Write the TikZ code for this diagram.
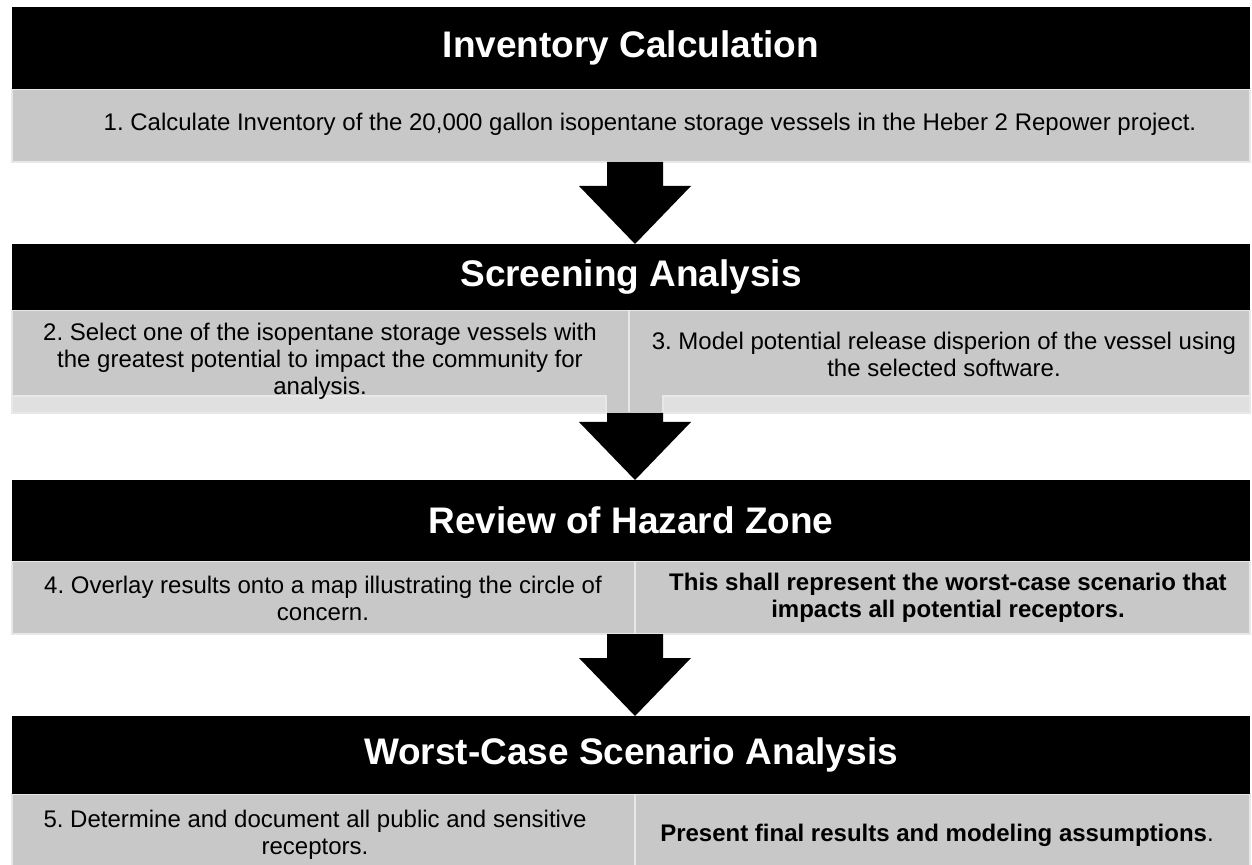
\documentclass[tikz,border=0pt]{standalone}
\usepackage{fontspec}
\setmainfont{Liberation Sans}
\usetikzlibrary{calc}
\definecolor{cellgray}{RGB}{200,200,200}
\definecolor{edgegray}{RGB}{232,232,232}
\definecolor{stripgray}{RGB}{224,224,224}

\begin{document}
\frenchspacing
\begin{tikzpicture}[x=0.5pt,y=-0.5pt,
  bar/.style={fill=black,text=white,inner sep=0pt,outer sep=0pt,minimum width=619pt,
    font=\fontsize{18.5}{22}\selectfont\bfseries},
  cell/.style={fill=cellgray,draw=edgegray,line width=1pt,inner sep=0pt,outer sep=0pt},
  strip/.style={fill=stripgray,draw=edgegray,line width=1pt,inner sep=0pt,outer sep=0pt,minimum height=8.5pt},
  body/.style={align=center,inner sep=0pt,font=\fontsize{12}{13.5}\selectfont},
  bodybf/.style={body,font=\fontsize{12}{13.5}\selectfont\bfseries}]
\useasboundingbox (0,0) rectangle (1252,865);
\coordinate (ax) at (635,0);

% grey cells
\node[cell,minimum width=619pt,minimum height=36.5pt] (g1) at (631,125.5) {};
\node[cell,minimum width=308.5pt,minimum height=51.5pt] (g2a) at (320.5,361.5) {};
\node[cell,minimum width=310.5pt,minimum height=51.5pt] (g2b) at (939.5,361.5) {};
\node[strip,minimum width=297pt] (s2a) at (309,404.5) {};
\node[strip,minimum width=293.5pt] (s2b) at (956.5,404.5) {};
\node[cell,minimum width=311.5pt,minimum height=36.5pt] (g3a) at (323.5,597.5) {};
\node[cell,minimum width=307.5pt,minimum height=36.5pt] (g3b) at (942.5,597.5) {};
\node[cell,minimum width=311.5pt,minimum height=41pt] (g4a) at (323.5,835) {};
\node[cell,minimum width=307.5pt,minimum height=41pt] (g4b) at (942.5,835) {};

% headers
\node[bar,minimum height=41pt] (b1) at (631,48) {Inventory Calculation};
\node[bar,minimum height=33pt] (b2) at (631,277) {Screening Analysis};
\node[bar,minimum height=40.5pt] (b3) at (631,520.5) {Review of Hazard Zone};
\node[bar,minimum height=39pt] (b4) at (631,755) {Worst-Case Scenario Analysis};

% block arrows
\foreach \from/\to in {g1/b2,g2a/b3,g3a/b4}
  \fill ($(\from.south -| ax)+(-28,0)$) -- ($(\from.south -| ax)+(28,0)$)
    -- ($(\to.north -| ax)+(28,-58)$) -- ($(\to.north -| ax)+(56,-58)$)
    -- (\to.north -| ax) -- ($(\to.north -| ax)+(-56,-58)$)
    -- ($(\to.north -| ax)+(-28,-58)$) -- cycle;

% texts
\node[body] (t1) at (650,124) {1. Calculate Inventory of the 20,000 gallon isopentane storage vessels in the Heber 2 Repower project.};
\node[body] (t2) at (320,361) {2. Select one of the isopentane storage vessels with\\the greatest potential to impact the community for\\analysis.};
\node[body] (t3) at (944,354) {3. Model potential release disperion of the vessel using\\the selected software.};
\node[body] (t4) at (323,598) {4. Overlay results onto a map illustrating the circle of\\concern.};
\node[bodybf] (t5) at (948,598) {This shall represent the worst-case scenario that\\impacts all potential receptors.};
\node[body] (t6) at (315,835) {5. Determine and document all public and sensitive\\receptors.};
\node[body] (t7) at (937,835) {\textbf{Present final results and modeling assumptions}.};
\end{tikzpicture}
\end{document}
